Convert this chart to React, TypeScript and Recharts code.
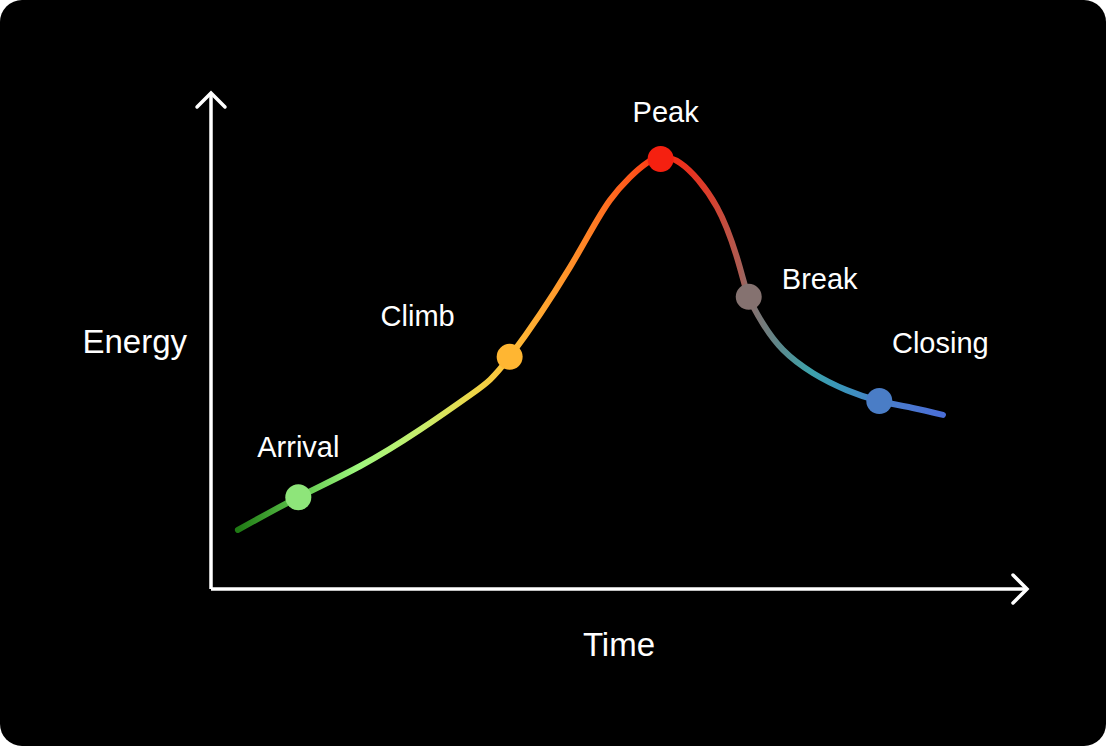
import React from "react";
import {
  ComposedChart,
  Line,
  Scatter,
  XAxis,
  YAxis,
  ReferenceDot,
} from "recharts";

// points (time, energy in arbitrary 0-100 units)
const curveTime = [3.3, 10.7, 18.3, 25.6, 32.1, 36.6, 44.0, 48.9, 53.4, 55.1, 57.5, 62.0, 64.8, 65.9, 67.6, 70.1, 73.8, 77.9, 81.9, 86.0, 89.7];
const curveEnergy = [11.9, 18.5, 24.8, 32.1, 39.5, 46.8, 64.9, 78.4, 85.9, 86.7, 85.9, 77.0, 64.9, 58.9, 53.6, 48.2, 43.5, 40.1, 37.9, 36.5, 35.1];

// labelled stages
const stageNames = ["Arrival", "Climb", "Peak", "Break", "Closing"];
const stageTime = [10.7, 36.6, 55.1, 65.9, 81.9];
const stageEnergy = [18.5, 46.8, 86.7, 58.9, 37.9];

const stageColors: Record<string, string> = {
  Arrival: "#8ee57a",
  Climb: "#ffb632",
  Peak: "#f52010",
  Break: "#857270",
  Closing: "#4a7dc6",
};

// label placement relative to the dot
const labelShift: Record<string, [number, number]> = {
  Arrival: [0, -50],
  Climb: [-92, -41],
  Peak: [5, -47],
  Break: [71, -18],
  Closing: [61, -58],
};

const gradientStops: [number, string][] = [
  [0, "#1f7a14"],
  [0.085, "#5ec44c"],
  [0.17, "#9ef77e"],
  [0.26, "#c8ee6c"],
  [0.33, "#ecd84a"],
  [0.385, "#ffbf38"],
  [0.44, "#ffa12e"],
  [0.49, "#ff8526"],
  [0.56, "#ff561a"],
  [0.6, "#fa2e12"],
  [0.64, "#e83220"],
  [0.67, "#d8402e"],
  [0.71, "#b05a50"],
  [0.725, "#8a6e6c"],
  [0.77, "#5a8a8e"],
  [0.81, "#3ea2aa"],
  [0.86, "#3a94bc"],
  [0.908, "#4a80c8"],
  [1, "#4a6ed8"],
];

const FONT = "'Liberation Sans', Arial, sans-serif";

const curveData = curveTime.map((t, i) => ({ t, e: curveEnergy[i] }));
const stageData = stageNames.map((name, i) => ({
  name,
  t: stageTime[i],
  e: stageEnergy[i],
}));

const StageDot = (props: any) => {
  const { cx, cy, payload } = props;
  const [dx, dy] = labelShift[payload.name];
  return (
    <g>
      <circle cx={cx} cy={cy} r={13} fill={stageColors[payload.name]} />
      <text
        x={cx + dx}
        y={cy + dy + 10}
        textAnchor="middle"
        fill="#fff"
        fontSize={29}
        fontFamily={FONT}
      >
        {payload.name}
      </text>
    </g>
  );
};

const ArrowRight = (props: any) => {
  const { cx, cy } = props;
  return (
    <path
      d={`M${cx - 14},${cy - 14} L${cx},${cy} L${cx - 14},${cy + 14}`}
      fill="none"
      stroke="#fff"
      strokeWidth={3.5}
      strokeLinecap="round"
    />
  );
};

const ArrowUp = (props: any) => {
  const { cx, cy } = props;
  return (
    <path
      d={`M${cx - 14},${cy + 14} L${cx},${cy} L${cx + 14},${cy + 14}`}
      fill="none"
      stroke="#fff"
      strokeWidth={3.5}
      strokeLinecap="round"
    />
  );
};

export default function App() {
  return (
    <div
      style={{
        position: "absolute",
        top: 0,
        left: 0,
        width: 1106,
        height: 746,
        background: "#000",
        borderRadius: 22,
        overflow: "hidden",
      }}
    >
      <ComposedChart
        width={1106}
        height={746}
        margin={{ top: 93, right: 79, bottom: 156, left: 210 }}
      >
        <defs>
          <linearGradient id="energyGrad" x1="0" y1="0" x2="1" y2="0">
            {gradientStops.map(([o, c]) => (
              <stop key={o} offset={o} stopColor={c} />
            ))}
          </linearGradient>
        </defs>
        <XAxis
          type="number"
          dataKey="t"
          domain={[0, 100]}
          tick={false}
          tickLine={false}
          height={1}
          axisLine={{ stroke: "#fff", strokeWidth: 3.5 }}
          label={{
            value: "Time",
            position: "bottom",
            offset: 43,
            fill: "#fff",
            fontSize: 33,
            fontFamily: FONT,
          }}
        />
        <YAxis
          type="number"
          dataKey="e"
          domain={[0, 100]}
          tick={false}
          tickLine={false}
          width={1}
          axisLine={{ stroke: "#fff", strokeWidth: 3.5 }}
          label={{
            value: "Energy",
            position: "left",
            offset: 23,
            fill: "#fff",
            fontSize: 33,
            fontFamily: FONT,
          }}
        />
        <Line
          data={curveData}
          type="natural"
          dataKey="e"
          stroke="url(#energyGrad)"
          strokeWidth={6}
          strokeLinecap="round"
          dot={false}
          activeDot={false}
          isAnimationActive={false}
        />
        <Scatter
          data={stageData}
          dataKey="e"
          shape={StageDot}
          isAnimationActive={false}
        />
        <ReferenceDot x={100} y={0} ifOverflow="visible" shape={ArrowRight} />
        <ReferenceDot x={0} y={100} ifOverflow="visible" shape={ArrowUp} />
      </ComposedChart>
    </div>
  );
}
